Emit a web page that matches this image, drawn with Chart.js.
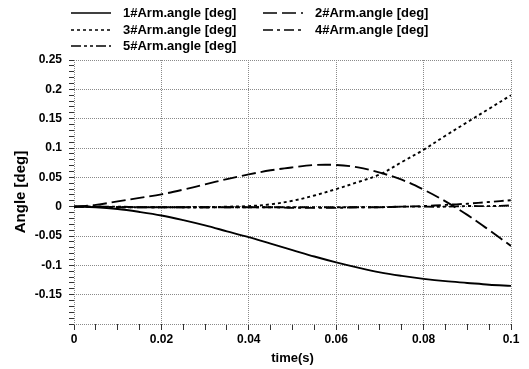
<!DOCTYPE html>
<html>
<head>
<meta charset="utf-8">
<script src="https://cdn.jsdelivr.net/npm/chart.js@4/dist/chart.umd.min.js"></script>
<style>
html,body{margin:0;padding:0;background:#fff;}
#wrap{width:529px;height:369px;position:relative;}
</style>
</head>
<body>
<div id="wrap"><canvas id="c" width="529" height="369"></canvas></div>
<script>
const seriesNames = ["1#Arm.angle [deg]","2#Arm.angle [deg]","3#Arm.angle [deg]","4#Arm.angle [deg]","5#Arm.angle [deg]"];
const time = [0,0.005,0.01,0.015,0.02,0.025,0.03,0.035,0.04,0.045,0.05,0.055,0.06,0.065,0.07,0.075,0.08,0.085,0.09,0.095,0.1];
const arm1 = [0,-0.001,-0.004,-0.009,-0.015,-0.023,-0.032,-0.042,-0.052,-0.063,-0.074,-0.085,-0.095,-0.104,-0.112,-0.118,-0.123,-0.127,-0.130,-0.133,-0.135];
const arm2 = [0,0.003,0.009,0.015,0.021,0.029,0.038,0.047,0.055,0.062,0.067,0.071,0.071,0.067,0.058,0.046,0.029,0.009,-0.014,-0.040,-0.067];
const arm3 = [0,0,-0.001,-0.001,-0.001,-0.001,-0.001,0,0.001,0.004,0.010,0.019,0.030,0.042,0.055,0.076,0.097,0.121,0.144,0.167,0.190];
const arm4 = [0,0,-0.001,-0.001,-0.001,-0.001,-0.001,-0.001,-0.001,-0.001,-0.002,-0.002,-0.002,-0.001,-0.001,0,0.001,0.003,0.005,0.008,0.011];
const arm5 = [0,0,0,-0.001,-0.001,-0.001,-0.001,-0.001,-0.001,-0.001,-0.001,-0.001,-0.001,-0.001,-0.001,0,0,0,0.001,0.001,0.002];
const yTickLabels = ["0.25","0.2","0.15","0.1","0.05","0","-0.05","-0.1","-0.15"];
const xTickLabels = ["0","0.02","0.04","0.06","0.08","0.1"];

const dashes = [[], [14,5], [3,3], [10,4,3,4], [10,3,3,3,3,3]];
const allSeries = [arm1, arm2, arm3, arm4, arm5];

const datasets = allSeries.map((s, k) => ({
  label: seriesNames[k],
  data: time.map((t, i) => ({x: t, y: s[i]})),
  borderColor: '#000',
  borderWidth: 1.9,
  borderDash: dashes[k],
  pointRadius: 0,
  tension: 0.35,
  fill: false
}));

const FONT = "'Liberation Sans', Arial, sans-serif";

function near(v, step){ return Math.abs(Math.round(v/step)*step - v) < 1e-9; }
function fmt(v, dec){ let r = Math.round(v*Math.pow(10,dec))/Math.pow(10,dec); if (Object.is(r,-0)) r = 0; return String(r); }

const legendPlugin = {
  id: 'customLegend',
  afterDraw(chart) {
    const ctx = chart.ctx;
    const pos = [[71,13],[263,13],[71,30],[263,30],[71,46]];
    ctx.save();
    ctx.font = "bold 13px " + FONT;
    ctx.textBaseline = 'middle';
    ctx.fillStyle = '#000';
    chart.data.datasets.forEach((ds, k) => {
      const [x, y] = pos[k];
      ctx.beginPath();
      ctx.setLineDash(ds.borderDash || []);
      ctx.lineWidth = 1.6;
      ctx.strokeStyle = '#000';
      ctx.moveTo(x, y);
      ctx.lineTo(x + 40, y);
      ctx.stroke();
      ctx.setLineDash([]);
      ctx.fillText(ds.label, x + 52, y);
    });
    ctx.restore();
  }
};

new Chart(document.getElementById('c'), {
  type: 'line',
  data: { datasets },
  plugins: [legendPlugin],
  options: {
    responsive: false,
    animation: false,
    layout: { padding: { top: 60, right: 18, left: 2, bottom: 3 } },
    plugins: { legend: { display: false }, tooltip: { enabled: false } },
    scales: {
      x: {
        type: 'linear',
        min: 0, max: 0.1,
        afterFit: (s) => { s.height = 42; },
        ticks: {
          stepSize: 0.005,
          autoSkip: false,
          maxRotation: 0,
          color: '#000',
          font: { family: FONT, size: 12, weight: 'bold' },
          padding: 2,
          callback: (v) => {
            if (!near(v, 0.02)) return '';
            const s = fmt(v, 3);
            return xTickLabels.includes(s) ? s : '';
          }
        },
        grid: {
          color: (c) => (c.tick && near(c.tick.value, 0.02)) ? '#8a8a8a' : 'rgba(0,0,0,0)',
          lineWidth: 1,
          tickColor: '#333',
          tickLength: 6,
          drawTicks: true
        },
        border: { display: false, dash: [1,1] },
        title: { display: true, text: 'time(s)', color: '#000', font: { family: FONT, size: 13, weight: 'bold' }, padding: { top: 0, bottom: 0 } }
      },
      y: {
        type: 'linear',
        min: -0.2, max: 0.25,
        afterFit: (s) => { s.width = 72; },
        ticks: {
          stepSize: 0.01,
          autoSkip: false,
          color: '#000',
          font: { family: FONT, size: 12, weight: 'bold' },
          padding: 7,
          callback: (v) => {
            if (!near(v, 0.05)) return '';
            const s = fmt(v, 2);
            return yTickLabels.includes(s) ? s : '';
          }
        },
        grid: {
          color: (c) => (c.tick && near(c.tick.value, 0.05)) ? '#8a8a8a' : 'rgba(0,0,0,0)',
          lineWidth: 1,
          tickColor: '#333',
          tickLength: 5,
          drawTicks: true
        },
        border: { display: false, dash: [1,1] },
        title: { display: true, text: 'Angle [deg]', color: '#000', font: { family: FONT, size: 15, weight: 'bold' }, padding: { top: 10, bottom: 0 } }
      }
    }
  }
});
</script>
</body>
</html>
